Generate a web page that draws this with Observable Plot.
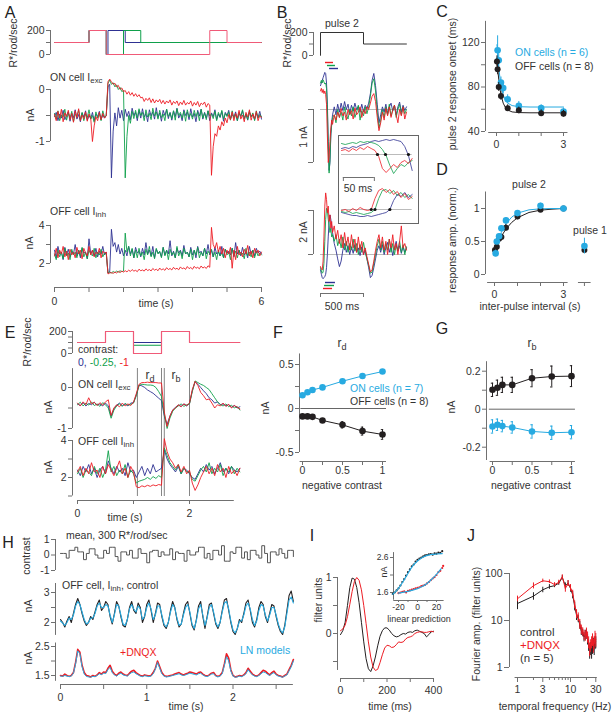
<!DOCTYPE html>
<html><head><meta charset="utf-8">
<script src="https://cdn.jsdelivr.net/npm/d3@7"></script>
<script src="https://cdn.jsdelivr.net/npm/@observablehq/plot@0.6"></script>
<style>
body{margin:0;background:#fff;}
#fig{position:relative;width:614px;height:714px;overflow:hidden;font-family:"Liberation Sans",Arial,Helvetica,sans-serif;color:#333;background:#fff;}
.t{position:absolute;font-size:10.5px;white-space:nowrap;line-height:1;}
.L{position:absolute;font-size:16px;line-height:1;transform:translate(-50%,-50%);color:#222;}
sub{font-size:75%;line-height:0;vertical-align:-0.3em;}
#fig svg{overflow:visible;}
</style></head><body><div id="fig"></div>
<script>
// ---------- colours ----------
const R="#ED1C24", G="#0FA04B", B="#2E3192", C="#27AAE1", K="#231F20", AX="#707070";
const FONT='"Liberation Sans", Arial, Helvetica, sans-serif';

// ---------- Panel A data ----------
const tA = d3.range(121).map(i => +(i*0.05).toFixed(2));
const stimLevels = [100,200,0,200,100,100];
const stimA_tBlue = [0,1,1.5,1.55,2.05,6];
const stimA_tGreen = [0,1,1.5,2.0,2.5,6];
const stimA_tRed = [0,1,1.5,4.5,5,6];
const aOnRed = [-0.48,-0.6,-0.42,-0.55,-0.38,-0.62,-0.45,-0.52,-0.4,-0.58,-0.46,-0.63,-0.41,-0.54,-0.37,-0.6,-0.49,-0.56,-0.43,-0.61,-0.47,-0.55,
-1.0,-0.7,-0.52,-0.6,-0.44,-0.58,-0.46,-0.55,-0.5,
0.15,0.2,0.15,0.1,0.12,0.05,0.08,0.0,0.03,-0.04,-0.02,-0.09,-0.04,-0.11,-0.06,-0.13,-0.08,-0.14,-0.1,-0.16,
-0.15,-0.23,-0.17,-0.21,-0.16,-0.25,-0.18,-0.26,-0.2,-0.24,-0.19,-0.27,-0.21,-0.28,-0.22,-0.26,-0.2,-0.3,-0.23,-0.27,
-0.22,-0.31,-0.24,-0.29,-0.21,-0.3,-0.25,-0.28,-0.22,-0.32,-0.25,-0.3,-0.23,-0.33,-0.26,-0.29,-0.24,-0.34,-0.27,-0.3,
-1.65,-1.1,-0.85,-0.9,-0.7,-0.78,-0.62,-0.7,-0.55,-0.64,
-0.48,-0.58,-0.43,-0.6,-0.46,-0.55,-0.4,-0.57,-0.49,-0.62,-0.44,-0.53,-0.39,-0.59,-0.47,-0.56,-0.42,-0.6,-0.5,-0.54];
const aOnBlue = [-0.52,-0.44,-0.6,-0.47,-0.55,-0.4,-0.58,-0.5,-0.43,-0.61,-0.46,-0.54,-0.39,-0.57,-0.48,-0.62,-0.45,-0.53,-0.41,-0.59,-0.5,-0.56,-0.44,-0.6,-0.47,-0.52,-0.42,-0.58,-0.49,-0.55,-0.5,
0.05,0.1,-1.7,-0.8,-0.45,-0.7,-0.35,-0.55,-0.4,-0.6,
-0.38,-0.52,-0.42,-0.58,-0.36,-0.5,-0.44,-0.6,-0.4,-0.55,-0.37,-0.53,-0.46,-0.62,-0.39,-0.51,-0.43,-0.57,-0.35,-0.54,
-0.45,-0.61,-0.4,-0.5,-0.38,-0.56,-0.44,-0.59,-0.41,-0.52,-0.36,-0.55,-0.47,-0.6,-0.39,-0.5,-0.43,-0.58,-0.37,-0.53,
-0.46,-0.62,-0.4,-0.51,-0.38,-0.57,-0.44,-0.55,-0.41,-0.6,-0.45,-0.52,-0.39,-0.58,-0.47,-0.54,-0.42,-0.61,-0.44,-0.5,
-0.4,-0.57,-0.48,-0.53,-0.43,-0.6,-0.46,-0.52,-0.41,-0.56,-0.47,-0.59,-0.44,-0.51,-0.49,-0.58,-0.45,-0.54,-0.42,-0.57];
const aOnGreen = [-0.46,-0.57,-0.41,-0.6,-0.49,-0.53,-0.38,-0.59,-0.45,-0.55,-0.42,-0.62,-0.48,-0.51,-0.4,-0.58,-0.44,-0.6,-0.47,-0.54,-0.39,-0.57,-0.5,-0.63,-0.43,-0.55,-0.46,-0.6,-0.41,-0.53,-0.5,
0.12,0.18,0.1,0.13,0.05,0.09,0.0,0.04,-0.04,-0.02,-1.7,-0.9,-0.5,-0.65,-0.42,-0.56,
-0.4,-0.55,-0.37,-0.5,-0.44,-0.6,-0.39,-0.53,-0.46,-0.58,-0.36,-0.51,-0.43,-0.57,-0.4,-0.54,-0.47,-0.6,-0.38,-0.52,
-0.45,-0.56,-0.41,-0.59,-0.37,-0.5,-0.44,-0.55,-0.42,-0.61,-0.39,-0.53,-0.46,-0.57,-0.4,-0.52,-0.43,-0.6,-0.38,-0.55,
-0.45,-0.58,-0.41,-0.51,-0.47,-0.56,-0.42,-0.6,-0.44,-0.53,-0.4,-0.57,-0.46,-0.52,-0.43,-0.59,-0.41,-0.55,-0.48,-0.6,
-0.44,-0.51,-0.39,-0.56,-0.47,-0.58,-0.42,-0.53,-0.45,-0.6,-0.41,-0.55,-0.48,-0.52];
const aOffRed = [2.4,2.8,2.3,2.7,2.5,2.9,2.35,2.65,2.2,2.75,2.45,2.6,2.3,2.85,2.5,2.7,2.25,2.8,2.55,2.4,2.9,2.45,2.7,2.35,2.6,2.5,2.8,2.3,2.65,2.55,2.6,
1.45,1.5,1.52,1.48,1.55,1.5,1.58,1.52,1.6,1.55,
1.62,1.56,1.65,1.58,1.68,1.6,1.64,1.57,1.7,1.62,1.66,1.6,1.72,1.63,1.68,1.61,1.74,1.65,1.7,1.62,
1.76,1.66,1.72,1.64,1.78,1.68,1.74,1.66,1.8,1.7,1.75,1.67,1.82,1.72,1.77,1.69,1.84,1.73,1.79,1.7,
1.85,1.75,1.8,1.72,1.87,1.76,1.82,1.74,1.88,1.8,
3.9,3.0,2.8,3.1,2.6,2.9,2.5,2.8,2.3,2.7,
2.5,2.85,1.75,2.7,2.2,2.9,2.45,2.6,2.35,2.75,2.5,2.95,2.4,2.65,2.3,2.8,2.55,2.7,2.4,2.6];
const aOffBlue = [2.7,2.3,2.9,2.5,2.6,2.2,2.85,2.45,2.75,2.35,2.65,2.5,3.0,2.4,2.7,2.3,2.8,2.55,2.6,2.25,3.3,2.5,2.7,2.4,2.8,2.35,2.65,2.5,2.9,2.45,2.6,
1.5,1.55,3.8,2.9,3.1,2.6,3.0,2.5,2.8,2.4,
2.7,2.4,2.9,2.5,2.75,2.3,2.85,2.55,2.65,2.35,2.8,2.45,3.1,2.5,2.7,2.4,2.9,2.3,2.75,2.55,
2.6,2.35,2.85,2.45,2.7,2.5,3.2,2.4,2.65,2.3,2.8,2.55,2.7,2.4,2.95,2.5,2.6,2.35,2.85,2.45,
2.7,2.3,2.9,2.55,2.65,2.4,2.8,2.5,3.0,2.45,2.7,2.35,2.85,2.5,2.6,2.4,2.9,2.3,2.75,2.55,
2.65,2.45,2.8,2.35,3.1,2.5,2.7,2.4,2.85,2.45,2.6,2.3,2.9,2.5,2.7,2.4,2.8,2.55,2.65,2.5];
const aOffGreen = [2.5,2.2,2.7,2.35,2.6,2.25,2.8,2.4,2.55,2.2,2.75,2.45,2.6,2.3,2.7,2.4,2.85,2.35,2.6,2.25,2.7,2.5,2.4,2.8,2.3,2.6,2.45,2.75,2.35,2.55,2.5,
1.5,1.55,1.5,1.58,1.52,1.6,1.55,1.62,1.57,1.6,3.6,2.6,2.9,2.4,2.8,2.3,
2.7,2.3,2.8,2.4,2.6,2.2,2.75,2.45,2.9,2.35,2.6,2.25,2.8,2.5,2.65,2.3,2.85,2.4,2.7,2.2,
2.75,2.45,2.6,2.3,2.9,2.4,2.65,2.25,2.8,2.5,2.6,2.35,2.75,2.2,2.7,2.45,2.85,2.3,2.6,2.4,
2.8,2.25,2.65,2.5,2.75,2.35,2.6,2.2,2.7,2.4,2.55,2.3,2.75,2.45,2.6,2.2,2.8,2.4,2.65,2.3,
2.7,2.45,2.55,2.25,2.8,2.4,2.6,2.35,2.7,2.3,2.65,2.4,2.55,2.45];

// ---------- Panel B data ----------
const tB = [...d3.range(0,150,10), ...d3.range(160,1001,20)];
const stimB_t = [0,0,500,1000];
const stimB_v = [0,200,100,100];
const bOnBlue = [0.45,0.5,0.55,0.6,0.65,0.7,0.68,0.5,0.1,-0.6,-1.15,-1.0,-0.5,-0.25,-0.1,
0.05,-0.1,0.1,-0.05,0.12,-0.02,0.15,0.0,0.1,-0.08,0.08,-0.03,0.12,0.0,0.06,-0.05,0.1,-0.04,0.08,0.02,
0.12,0.3,0.55,0.68,0.45,0.1,-0.25,-0.1,0.05,-0.05,0.1,-0.08,0.05,0.12,-0.03,0.08,-0.1,0.05,0.14,-0.05,0.08,-0.02,0.05];
const bOnGreen = [0.5,0.55,0.5,0.56,0.52,0.48,0.5,0.4,0.0,-0.7,-1.2,-0.95,-0.45,-0.3,-0.15,
-0.1,-0.25,0.0,-0.15,-0.05,-0.2,0.05,-0.1,-0.18,0.0,-0.12,0.05,-0.15,-0.05,0.08,-0.2,-0.02,-0.12,0.05,-0.08,
0.05,0.25,0.5,0.58,0.35,-0.05,-0.35,-0.2,0.0,-0.15,0.05,-0.1,0.1,-0.12,0.0,0.08,-0.15,0.0,0.1,-0.1,0.05,-0.08,0.0];
const bOnRed = [0.35,0.4,0.32,0.38,0.3,0.35,0.28,0.1,-0.5,-1.0,-0.9,-0.6,-0.35,-0.2,-0.28,
-0.1,-0.2,-0.05,-0.15,0.02,-0.12,-0.05,-0.2,0.0,-0.1,-0.02,-0.18,0.03,-0.1,-0.05,0.05,-0.15,0.0,-0.08,0.05,
0.0,0.12,0.25,0.3,0.15,-0.15,-0.4,-0.25,-0.05,-0.2,0.02,-0.12,0.05,-0.15,-0.02,0.08,-0.1,-0.25,0.0,-0.12,0.05,-0.18,-0.05];
const bOffBlue = [-0.7,-0.9,-1.05,-1.1,-1.05,-1.0,-0.9,-0.6,0.0,0.8,1.5,1.8,1.6,1.3,1.0,
0.5,0.2,-0.2,-0.55,-0.3,0.2,0.5,0.1,0.4,0.0,0.35,0.05,0.45,0.1,0.3,-0.05,0.35,0.0,0.2,-0.2,
-0.6,-1.05,-0.95,-0.6,-0.2,0.2,0.4,0.1,0.45,0.0,0.3,0.55,0.1,0.4,-0.05,0.3,0.6,0.15,0.4,0.05,0.35,0.1,0.3];
const bOffGreen = [-0.6,-0.75,-0.85,-0.8,-0.4,0.6,1.6,2.1,2.0,1.6,1.3,1.0,1.2,0.8,0.9,
0.6,0.9,0.4,0.7,0.3,0.8,0.2,0.6,0.1,0.5,0.2,0.7,0.15,0.5,0.0,0.45,0.1,0.55,0.1,-0.2,
-0.5,-0.85,-0.8,-0.4,0.0,0.4,0.7,0.2,0.6,0.1,0.5,0.2,0.7,0.1,0.5,0.0,0.4,0.2,0.6,0.1,0.45,0.0,0.35];
const bOffRed = [-0.55,-0.65,-0.7,-0.3,0.8,2.2,2.8,2.5,1.9,2.2,1.5,1.8,1.2,1.5,1.0,
1.3,0.7,1.1,0.5,0.9,0.3,1.0,0.4,0.8,0.2,0.9,0.3,0.7,0.1,0.8,0.2,0.6,0.0,0.3,-0.1,
-0.45,-0.8,-0.7,-0.3,0.2,0.6,0.9,0.3,0.8,0.2,0.6,0.0,0.7,0.3,0.9,0.2,0.5,0.0,0.6,1.3,0.3,0.5,0.2];
const onsetTopB = [["r",58,151],["g",81,174],["b",105,209]];
const onsetBotB = [["b",58,174],["g",47,163],["r",35,140]];
// inset (onset detail), ms
const insT = d3.range(20).map(i => i*6);
const insUpGreen = [0.55,0.5,0.55,0.6,0.55,0.65,0.6,0.65,0.6,0.55,0.45,0.25,-0.05,-0.55,-0.95,-0.7,-0.5,-0.6,-0.4,-0.3];
const insUpRed = [0.2,0.25,0.15,0.3,0.2,0.35,0.25,0.4,0.3,0.2,-0.1,-0.7,-0.9,-0.7,-0.5,-0.65,-0.4,-0.3,-0.45,-0.2];
const insUpBlue = [0.3,0.35,0.3,0.4,0.35,0.45,0.5,0.55,0.65,0.7,0.65,0.7,0.75,0.7,0.75,0.7,0.65,0.4,-0.05,-0.8];
const insLoRed = [-0.05,0,-0.1,0.05,-0.05,0.1,0,-0.05,0,0.55,0.95,1.05,0.85,1.0,0.75,0.9,0.6,0.8,0.5,0.65];
const insLoGreen = [-0.1,-0.15,-0.1,-0.2,-0.15,-0.2,-0.25,-0.2,-0.15,0,0.55,0.95,1.0,0.8,0.95,0.7,0.85,0.6,0.75,0.55];
const insLoBlue = [-0.15,-0.2,-0.25,-0.3,-0.3,-0.35,-0.35,-0.3,-0.35,-0.3,-0.25,-0.2,-0.15,0,0.45,0.75,0.65,0.85,0.6,0.75];
const insUpOnsets = [58,71,108];
const insLoOnsets = [48,54,78];

// ---------- Panel C data ----------
const cOnX = [0.05,0.1,0.2,0.3,0.5,1,2,3], cOnY = [113,104,84,79,69,63,61,58], cOnE = [13,6,5,5,4,4,3,3];
const cOffX = [0.02,0.05,0.1,0.2,0.5,1,2,3], cOffY = [103,96,80,72,61,59,56.5,56], cOffE = [5,5,4,4,3,3,3,3];
const cFitT = [0.02,0.05,0.1,0.15,0.2,0.3,0.4,0.5,0.7,1,1.5,2,3];
const cFitOn = [118,110,98,89,82,73,68,65.5,63.3,62.3,62,62,62];
const cFitOff = [104,97,87,79,73,65.5,61.5,59.3,57.6,57,56.8,56.8,56.8];

// ---------- Panel D data ----------
const dOnX = [0.05,0.1,0.2,0.3,0.5,1,2,3], dOnY = [0.32,0.5,0.58,0.7,0.82,0.93,1.04,1.0], dOnE = [0.05,0.04,0.04,0.04,0.04,0.03,0.04,0.02];
const dOffX = [0.02,0.1,0.2,0.3,0.5,1,2,3], dOffY = [0.37,0.42,0.54,0.57,0.71,0.88,0.98,1.0], dOffE = [0.04,0.04,0.04,0.04,0.05,0.05,0.04,0.02];
const dFitT = [0,0.1,0.2,0.3,0.5,0.75,1,1.5,2,2.5,3];
const dFitOn = [0.3,0.44,0.55,0.64,0.77,0.87,0.93,0.98,0.995,1,1];
const dFitOff = [0.35,0.43,0.51,0.58,0.69,0.79,0.86,0.94,0.975,0.99,1];
const pulse1X = 3.91, pulse1On = 0.43, pulse1OnE = 0.12, pulse1Off = 0.37, pulse1OffE = 0.04;

// ---------- Panel E data ----------
const tE = d3.range(59).map(i => +(i*0.05).toFixed(2));
const stimE_t = [0,0.5,1.0,1.5,2.0,2.9];
const stimE_red = [100,200,0,200,100,100];
const stimE_green = [100,200,75,200,100,100];
const stimE_blue = [100,200,100,200,100,100];
const eLines = [1.07,1.5,1.55,2.0];
const eOnRed = [-0.38,-0.45,-0.35,-0.42,-0.25,-0.4,-0.36,-0.44,-0.37,-0.43,-0.35,-0.3,-0.68,-0.5,-0.42,-0.47,-0.38,-0.45,-0.4,-0.44,
-0.36,-0.15,0.08,0.12,0.12,0.13,0.12,0.12,0.12,0.11,0.11,-0.6,-0.95,-0.7,-0.55,-0.5,-0.42,-0.47,-0.4,-0.44,
-0.38,-0.05,0.15,0.05,-0.12,-0.2,-0.3,-0.28,-0.38,-0.5,-0.42,-0.45,-0.38,-0.46,-0.41,-0.5,-0.44,-0.48,-0.52];
const eOnGreen = [-0.42,-0.36,-0.45,-0.38,-0.43,-0.35,-0.44,-0.4,-0.46,-0.37,-0.42,-0.5,-0.75,-0.55,-0.45,-0.4,-0.46,-0.39,-0.43,-0.41,
-0.38,-0.2,0.05,0.08,0.07,0.06,0.06,0.05,0.0,-0.1,-0.22,-0.65,-1.0,-0.75,-0.58,-0.5,-0.45,-0.4,-0.46,-0.42,
-0.4,-0.1,0.16,0.12,0.08,0.05,0.0,-0.05,-0.15,-0.25,-0.35,-0.42,-0.45,-0.4,-0.47,-0.43,-0.5,-0.46,-0.55];
const eOnBlue = [-0.4,-0.44,-0.37,-0.45,-0.39,-0.42,-0.36,-0.43,-0.4,-0.45,-0.38,-0.45,-0.7,-0.52,-0.43,-0.38,-0.44,-0.4,-0.45,-0.38,
-0.37,-0.18,0.06,0.04,0.0,-0.06,-0.1,-0.14,-0.2,-0.26,-0.32,-0.7,-0.9,-0.7,-0.55,-0.48,-0.43,-0.46,-0.4,-0.45,
-0.39,-0.08,0.14,0.08,0.0,-0.08,-0.15,-0.25,-0.3,-0.38,-0.35,-0.42,-0.4,-0.45,-0.42,-0.48,-0.44,-0.5,-0.47];
const eOffRed = [2.3,2.6,2.1,2.5,2.2,2.8,2.3,2.4,2.0,2.6,2.2,2.7,2.4,2.1,2.5,2.9,2.2,2.5,2.0,2.6,
2.3,1.5,1.45,1.55,1.5,1.58,1.52,1.6,1.55,1.62,1.58,4.1,3.4,3.0,2.8,2.5,2.7,2.3,2.6,2.2,
2.4,1.7,1.3,1.6,2.0,2.3,2.6,2.2,2.5,2.1,2.7,2.3,2.5,2.0,2.6,2.2,2.4,2.1,2.5];
const eOffGreen = [2.2,2.5,2.0,2.4,2.3,2.1,2.6,2.2,2.5,2.0,2.4,3.45,2.3,2.6,2.1,2.4,2.2,2.7,2.0,2.4,
2.2,1.7,1.8,1.85,1.9,2.0,1.9,2.05,1.95,2.1,2.0,3.6,3.2,2.8,2.6,2.4,2.7,2.2,2.5,2.3,
2.3,1.9,1.8,2.1,2.4,2.6,2.3,2.8,2.2,2.5,2.3,2.7,2.1,2.5,2.3,2.6,2.2,2.5,2.3];
const eOffBlue = [2.4,2.1,2.6,2.3,2.7,2.2,2.5,2.0,2.4,2.6,2.2,2.9,2.5,2.2,2.6,2.3,2.5,2.1,2.8,2.3,
2.4,2.0,2.3,2.6,2.1,2.5,2.2,2.7,2.3,2.4,2.5,3.5,3.0,2.7,2.5,2.3,2.6,2.2,2.5,2.4,
2.2,2.0,1.9,2.2,2.5,2.3,2.7,2.4,2.6,2.2,2.5,2.8,2.3,2.5,2.2,2.6,2.4,2.3,2.5];

// ---------- Panels F, G data ----------
const negContrast = [0,0.0625,0.125,0.25,0.5,0.75,1];
const fOn = [0.15,0.185,0.21,0.24,0.31,0.37,0.42], fOnE = [0.02,0.02,0.02,0.02,0.02,0.02,0.02];
const fOff = [-0.09,-0.09,-0.095,-0.136,-0.186,-0.257,-0.295], fOffE = [0.01,0.01,0.012,0.02,0.035,0.045,0.055];
const gOff = [0.102,0.113,0.128,0.128,0.163,0.172,0.174], gOffE = [0.035,0.04,0.04,0.04,0.045,0.055,0.055];
const gOn = [-0.091,-0.082,-0.089,-0.096,-0.117,-0.124,-0.121], gOnE = [0.035,0.03,0.03,0.03,0.035,0.035,0.035];

// ---------- Panel H data ----------
const hcT = d3.range(82).map(i => i/30);
const hContrast = [0.1,0.1,-0.2,0.3,0.3,0.5,0.2,0.2,-0.3,0.1,0.4,0.4,0.0,-0.2,-0.2,0.3,0.1,0.5,0.5,-0.1,
-0.4,0.2,0.2,0.0,0.3,-0.2,-0.2,0.4,0.1,0.1,-0.5,0.2,0.3,0.3,-0.1,0.2,0.0,0.0,0.4,-0.3,
0.2,0.1,0.1,-0.4,0.3,0.0,0.0,0.2,0.5,0.5,-0.2,0.1,-0.3,0.3,0.3,0.0,0.6,-0.4,-0.4,0.2,
0.1,0.5,0.5,-0.2,0.2,-0.3,0.3,0.3,0.0,-0.2,0.6,0.1,-0.5,0.2,0.2,0.0,0.4,0.1,-0.2,0.3,0.3,-0.1];
const tH = d3.range(109).map(i => i*0.025);
const hCtlData = [2.1,2.0,1.85,2.05,2.2,2.0,2.3,2.6,2.8,2.6,2.3,2.05,1.9,2.0,2.2,2.1,2.35,2.6,2.75,2.4,
2.5,2.7,2.6,2.2,1.95,2.3,2.7,2.55,2.2,1.9,1.85,2.1,2.5,2.7,2.4,2.3,2.65,2.5,2.0,2.2,
2.6,2.75,2.4,2.0,2.3,2.65,2.6,2.2,1.9,1.8,2.0,2.4,2.7,2.5,2.1,1.85,1.95,2.3,2.6,2.7,
2.3,1.9,1.75,2.1,2.55,2.7,2.2,1.8,2.2,2.6,2.65,2.3,1.95,1.8,2.0,2.4,2.75,2.8,2.4,2.0,
1.7,1.6,1.8,2.1,2.0,2.3,2.65,2.75,2.4,2.0,1.85,2.1,2.5,2.7,2.6,2.2,2.0,2.3,2.6,2.55,
2.2,1.9,1.7,1.6,1.9,2.4,2.9,3.05,2.7];
const hCtlModel = [2.05,1.98,1.9,2.0,2.15,2.1,2.25,2.55,2.7,2.6,2.35,2.1,1.95,2.0,2.15,2.15,2.3,2.55,2.65,2.5,
2.5,2.6,2.55,2.25,2.0,2.25,2.6,2.55,2.25,1.95,1.9,2.1,2.45,2.6,2.45,2.35,2.55,2.45,2.1,2.2,
2.5,2.65,2.45,2.1,2.25,2.55,2.55,2.25,1.95,1.85,2.0,2.35,2.6,2.5,2.15,1.9,1.95,2.25,2.5,2.6,
2.35,1.95,1.8,2.05,2.45,2.6,2.25,1.9,2.15,2.5,2.6,2.35,2.0,1.85,2.0,2.35,2.65,2.7,2.45,2.05,
1.75,1.65,1.8,2.05,2.05,2.25,2.55,2.65,2.45,2.1,1.9,2.05,2.4,2.6,2.55,2.25,2.05,2.25,2.5,2.5,
2.25,1.95,1.75,1.65,1.85,2.3,2.75,2.85,2.65];
const hDnqData = [1.5,1.48,1.55,1.5,1.47,1.5,1.6,1.95,2.4,2.3,1.85,1.6,1.5,1.48,1.45,1.5,1.47,1.52,1.6,1.55,
1.62,1.6,1.75,1.85,1.65,1.55,1.5,1.58,1.62,1.55,1.52,1.5,1.58,1.65,1.68,1.6,1.55,1.5,1.48,1.52,
1.5,1.48,1.5,1.6,1.75,2.0,1.8,1.6,1.5,1.47,1.48,1.5,1.52,1.55,1.58,1.6,1.55,1.52,1.55,1.58,
1.62,1.6,1.58,1.55,1.6,1.62,1.55,1.5,1.48,1.52,1.58,1.6,1.5,1.47,1.5,1.6,1.9,2.25,2.1,1.7,
1.5,1.45,1.47,1.5,1.48,1.52,1.6,1.75,1.65,1.55,1.5,1.48,1.52,1.6,1.68,1.65,1.58,1.52,1.6,1.65,
1.55,1.5,1.48,1.45,1.5,1.55,1.7,1.85,2.05];
const hDnqModel = [1.48,1.47,1.5,1.48,1.46,1.48,1.58,1.9,2.35,2.25,1.8,1.55,1.47,1.45,1.44,1.47,1.46,1.5,1.56,1.53,
1.58,1.57,1.7,1.78,1.6,1.52,1.48,1.54,1.58,1.52,1.5,1.48,1.55,1.6,1.62,1.56,1.52,1.48,1.46,1.49,
1.48,1.46,1.48,1.56,1.72,1.95,1.75,1.56,1.48,1.45,1.46,1.48,1.5,1.52,1.54,1.56,1.52,1.5,1.52,1.55,
1.58,1.56,1.54,1.52,1.56,1.58,1.52,1.48,1.46,1.5,1.55,1.56,1.48,1.45,1.48,1.56,1.85,2.15,2.0,1.65,
1.48,1.44,1.45,1.48,1.46,1.5,1.56,1.7,1.6,1.52,1.48,1.46,1.5,1.56,1.62,1.6,1.54,1.5,1.56,1.6,
1.52,1.48,1.46,1.44,1.48,1.52,1.66,1.8,2.0];

// ---------- Panel I data ----------
const iT = d3.range(41).map(i => i*10);
const iControl = [-0.02,0.05,0.2,0.5,0.82,0.99,0.97,0.82,0.55,0.2,-0.15,-0.45,-0.63,-0.68,-0.58,-0.42,-0.22,-0.05,0.05,0.1,
0.1,0.06,0.0,-0.04,-0.06,-0.05,-0.02,0.0,-0.01,0.02,0.03,0.02,0.05,0.06,0.04,0.02,0.0,-0.06,-0.02,0.03,0.04];
const iDnqx = [0.05,0.08,0.15,0.3,0.52,0.75,0.93,1.0,0.95,0.78,0.5,0.18,-0.15,-0.42,-0.6,-0.66,-0.64,-0.52,-0.38,-0.26,
-0.21,-0.22,-0.25,-0.24,-0.2,-0.15,-0.16,-0.15,-0.1,-0.07,-0.06,-0.04,0.0,0.02,0.03,0.03,0.02,0.02,0.03,0.04,0.03];
const insIctlX = [-26,-24,-22,-20,-18,-16,-14,-12,-10,-8,-6,-4,-2,0,2,4,6,8,10,12,14,16,18,20,22,24,26];
const insIctlY = [1.56,1.6,1.66,1.72,1.8,1.9,1.98,2.08,2.18,2.26,2.35,2.4,2.48,2.53,2.57,2.6,2.63,2.66,2.67,2.69,2.7,2.68,2.72,2.71,2.74,2.73,2.78];
const insIctlFitX = [-26,-20,-15,-10,-5,0,5,10,15,20,26];
const insIctlFitY = [1.55,1.72,1.92,2.15,2.36,2.5,2.6,2.66,2.69,2.7,2.71];
const insIdnqX = [-20,-18,-16,-14,-12,-10,-8,-6,-4,-2,0,2,4,6,8,10,12,14,16,18,20,22,24,26,27];
const insIdnqY = [1.58,1.6,1.62,1.63,1.6,1.65,1.66,1.68,1.7,1.72,1.73,1.75,1.78,1.8,1.82,1.86,1.9,1.95,2.0,2.04,2.1,2.18,2.22,2.3,2.36];
const insIdnqFitX = [-20,-10,0,5,10,15,20,25];
const insIdnqFitY = [1.58,1.63,1.71,1.77,1.86,1.98,2.12,2.28];

// ---------- Panel J data ----------
const jF = d3.range(1,31);
const jCtl = [23,33,45,52,55,62,82,55,62,48,35,20,13,11,8,6,5.5,4.5,5,5.2,4,3,2.2,2.6,2.2,2.8,3.2,2.6,3.4,3.5];
const jCtlE = [6,6,6,6,5,6,8,8,8,8,6,4,3,2,1.5,1.2,1,1,1.2,1.2,1,0.8,0.7,0.8,0.7,0.9,1,0.8,1,1];
const jDnq = [29,55,70,67,58,65,85,48,62,50,38,22,14,12,8.5,6.5,5.8,5,4.8,5.5,4.5,3.5,2.5,3,3.5,4,3,3.5,4.5,4];
const jDnqE = [4,8,6,6,6,7,9,8,9,8,6,4,3,2.5,2,1.5,1.2,1.2,1.2,1.4,1.2,1,0.8,0.9,1,1.2,1,1.1,1.4,1.3];

// ---------- helpers ----------
const fig = document.getElementById("fig");
function ext(m, p, log) {
  const [p0, v0, p1, v1] = m;
  if (log) { const a = Math.log10(v0), b = Math.log10(v1); return 10 ** (a + (p - p0) * (b - a) / (p1 - p0)); }
  return v0 + (p - p0) * (v1 - v0) / (p1 - p0);
}
function chart(o) {
  const ml = 40, mr = 20, mt = 20, mb = 30;
  const xd = [ext(o.xm, o.fx[0], o.xlog), ext(o.xm, o.fx[1], o.xlog)];
  const yd = o.ym ? [ext(o.ym, o.fy[1], o.ylog), ext(o.ym, o.fy[0], o.ylog)] : null;
  const y = o.y || {domain: yd, type: o.ylog ? "log" : "linear"};
  const svg = Plot.plot({
    width: o.fx[1] - o.fx[0] + ml + mr, height: o.fy[1] - o.fy[0] + mt + mb,
    marginLeft: ml, marginRight: mr, marginTop: mt, marginBottom: mb,
    x: {domain: xd, type: o.xlog ? "log" : "linear", axis: null},
    y: {...y, axis: null},
    style: {background: "transparent", overflow: "visible", fontFamily: FONT, fontSize: (o.fs || 10.5) + "px", color: "#333"},
    marks: o.marks(xd, yd)
  });
  svg.style.position = "absolute";
  svg.style.left = (o.fx[0] - ml) + "px";
  svg.style.top = (o.fy[0] - mt) + "px";
  svg.style.maxWidth = "none";
  fig.append(svg);
}
const fmt = labels => d => labels.some(l => Math.abs(l - d) < 1e-9) ? String(d) : "";
function yAx(xd, ticks, labels, from, to, o = {}) {
  return [Plot.ruleX([xd[0]], {y1: from, y2: to, stroke: AX, strokeWidth: 1}),
    Plot.axisY({ticks, tickSize: o.size ?? 4, tickPadding: o.pad ?? 2, tickFormat: fmt(labels), stroke: AX, fill: "#333", label: null, anchor: "left"})];
}
function xAx(yd, ticks, labels, from, to, o = {}) {
  return [Plot.ruleY([yd[0]], {x1: from, x2: to, stroke: AX, strokeWidth: 1}),
    Plot.axisX({ticks, tickSize: o.size ?? 4, tickPadding: o.pad ?? 3, tickFormat: fmt(labels), stroke: AX, fill: "#333", label: null, anchor: "bottom"})];
}
const idx = (a, b) => d3.range(Math.min(a.length, b.length));
const L = (t, v, stroke, sw = 1, extra = {}) => Plot.line(idx(t, v), {x: i => t[i], y: i => v[i], stroke, strokeWidth: sw, ...extra});
const D = (t, v, fill, r = 3) => Plot.dot(idx(t, v), {x: i => t[i], y: i => v[i], fill, r, stroke: "none"});
const EB = (t, v, e, stroke, cap = 0) => {
  const m = [Plot.ruleX(idx(t, v), {x: i => t[i], y1: i => v[i] - e[i], y2: i => v[i] + e[i], stroke, strokeWidth: 1})];
  if (cap) {
    m.push(Plot.ruleY(idx(t, v), {y: i => v[i] + e[i], x1: i => t[i] - cap, x2: i => t[i] + cap, stroke}));
    m.push(Plot.ruleY(idx(t, v), {y: i => v[i] - e[i], x1: i => t[i] - cap, x2: i => t[i] + cap, stroke}));
  }
  return m;
};
function T(html, x, y, o = {}) {
  const d = document.createElement("div");
  d.className = "t"; d.innerHTML = html;
  d.style.left = x + "px"; d.style.top = y + "px";
  const a = o.a || "m";
  let tr = a === "s" ? "translate(0,-50%)" : a === "e" ? "translate(-100%,-50%)" : "translate(-50%,-50%)";
  if (o.rot) tr = "translate(-50%,-50%) rotate(-90deg)";
  d.style.transform = tr;
  if (o.color) d.style.color = o.color;
  if (o.size) d.style.fontSize = o.size + "px";
  fig.append(d);
}
function letter(s, x, y) { const d = document.createElement("div"); d.className = "L"; d.textContent = s; d.style.left = x + "px"; d.style.top = y + "px"; fig.append(d); }

// ================= Panel A =================
const xmA = [54, 0, 261, 6];
chart({fx: [50, 265], fy: [24, 58], xm: xmA, ym: [30, 200, 54, 0], marks: (xd) => [
  ...yAx(xd, [0, 100, 200], [0, 200], 0, 200),
  L(stimA_tBlue, stimLevels, B, 1, {curve: "step-after"}),
  L(stimA_tGreen, stimLevels, G, 1, {curve: "step-after"}),
  L(stimA_tRed, stimLevels, "#F05A78", 1, {curve: "step-after"})
]});
chart({fx: [50, 265], fy: [80, 182], xm: xmA, ym: [89, 0, 141, -1], marks: (xd) => [
  ...yAx(xd, [0, -0.5, -1], [0, -1], -1, 0),
  L(tA, aOnBlue, B, 0.9), L(tA, aOnGreen, G, 0.9), L(tA, aOnRed, R, 0.9)
]});
chart({fx: [50, 265], fy: [205, 287], xm: xmA, ym: [225, 4, 263, 2], marks: (xd, yd) => [
  ...yAx(xd, [4, 3, 2], [4, 2], 2, 4),
  ...xAx(yd, [0, 1, 2, 3, 4, 5, 6], [0, 6], 0, 6, {size: 5, pad: 5}),
  L(tA, aOffBlue, B, 0.9), L(tA, aOffGreen, G, 0.9), L(tA, aOffRed, R, 0.9)
]});
letter("A", 10, 13);
T("R*/rod/sec", 13, 43, {rot: true});
T("ON cell I<sub>exc</sub>", 50, 77, {a: "s"});
T("nA", 30, 115, {rot: true});
T("OFF cell I<sub>inh</sub>", 50, 211, {a: "s"});
T("nA", 29, 243, {rot: true});
T("time (s)", 156, 303);

// ================= Panel B =================
const xmB = [320, 0, 363, 500];
chart({fx: [313, 410], fy: [24, 58], xm: xmB, ym: [32, 200, 55, 0], marks: (xd) => [
  ...yAx(xd, [0, 100, 200], [0, 200], 0, 200),
  L(stimB_t, stimB_v, "#333", 1, {curve: "step-after"})
]});
chart({fx: [313, 410], fy: [59, 70], xm: xmB, y: {type: "point", domain: ["r", "g", "b"]}, marks: () => [
  Plot.ruleY(onsetTopB.filter(d => d[0] === "r"), {y: d => d[0], x1: d => d[1], x2: d => d[2], stroke: R, strokeWidth: 1.4}),
  Plot.ruleY(onsetTopB.filter(d => d[0] === "g"), {y: d => d[0], x1: d => d[1], x2: d => d[2], stroke: G, strokeWidth: 1.4}),
  Plot.ruleY(onsetTopB.filter(d => d[0] === "b"), {y: d => d[0], x1: d => d[1], x2: d => d[2], stroke: B, strokeWidth: 1.4})
]});
chart({fx: [313, 410], fy: [70, 182], xm: xmB, ym: [109, 0, 162, -1], marks: (xd) => [
  ...yAx(xd, [0, -1], [], -1, 0, {size: 5}),
  Plot.ruleY([0], {x1: 0, x2: 1000, stroke: "#aaa", strokeWidth: 0.8}),
  L(tB, bOnBlue, B, 0.9), L(tB, bOnGreen, G, 0.9), L(tB, bOnRed, R, 0.9)
]});
chart({fx: [313, 410], fy: [185, 281], xm: xmB, ym: [254, 0, 210, 2], marks: (xd) => [
  ...yAx(xd, [0, 2], [], 0, 2, {size: 5}),
  Plot.ruleY([0], {x1: 0, x2: 1000, stroke: "#aaa", strokeWidth: 0.8}),
  L(tB, bOffBlue, B, 0.9), L(tB, bOffGreen, G, 0.9), L(tB, bOffRed, R, 0.9)
]});
chart({fx: [313, 410], fy: [279, 290], xm: xmB, y: {type: "point", domain: ["b", "g", "r"]}, marks: () => [
  Plot.ruleY(onsetBotB.filter(d => d[0] === "b"), {y: d => d[0], x1: d => d[1], x2: d => d[2], stroke: B, strokeWidth: 1.4}),
  Plot.ruleY(onsetBotB.filter(d => d[0] === "g"), {y: d => d[0], x1: d => d[1], x2: d => d[2], stroke: G, strokeWidth: 1.4}),
  Plot.ruleY(onsetBotB.filter(d => d[0] === "r"), {y: d => d[0], x1: d => d[1], x2: d => d[2], stroke: R, strokeWidth: 1.4})
]});
chart({fx: [313, 410], fy: [291, 299], xm: xmB, ym: [293, 0, 297, -1], marks: () => [
  Plot.ruleY([0], {x1: 0, x2: 500, stroke: AX}),
  Plot.ruleX([0, 500], {y1: 0, y2: -1, stroke: AX})
]});
// inset box
{ const box = document.createElement("div");
  Object.assign(box.style, {position: "absolute", left: "338px", top: "135px", width: "79px", height: "87px", border: "1px solid #666", background: "#fff"});
  fig.append(box); }
const xmIns = [341, 0, 372, 50];
chart({fx: [339, 417], fy: [137, 182], xm: xmIns, ym: [154, 0, 174, -1], marks: () => [
  Plot.ruleY([0], {x1: 0, x2: 114, stroke: "#aaa", strokeWidth: 0.8}),
  L(insT, insUpBlue, B, 0.8), L(insT, insUpGreen, G, 0.8), L(insT, insUpRed, R, 0.8),
  Plot.dot(insUpOnsets, {x: d => d, y: 0, r: 1.6, fill: "#111"}),
  Plot.ruleY([-1.15], {x1: 3, x2: 53, stroke: AX}),
  Plot.ruleX([3, 53], {y1: -1.15, y2: -1.35, stroke: AX})
]});
chart({fx: [339, 417], fy: [183, 221], xm: xmIns, ym: [209, 0, 229, -1], marks: () => [
  Plot.ruleY([0], {x1: 0, x2: 114, stroke: "#aaa", strokeWidth: 0.8}),
  L(insT, insLoBlue, B, 0.8), L(insT, insLoGreen, G, 0.8), L(insT, insLoRed, R, 0.8),
  Plot.dot(insLoOnsets, {x: d => d, y: 0, r: 1.6, fill: "#111"})
]});
letter("B", 282, 13);
T("R*/rod/sec", 287, 43, {rot: true});
T("pulse 2", 325, 23, {a: "s"});
T("1 nA", 303, 137, {rot: true});
T("2 nA", 303, 232, {rot: true});
T("500 ms", 342, 306);
T("50 ms", 358, 188);

// ================= Panel C =================
chart({fx: [485, 578], fy: [18, 132], xm: [496, 0, 563, 3], ym: [42, 120, 131, 40], marks: (xd, yd) => [
  ...yAx(xd, [40, 60, 80, 100, 120], [40, 80, 120], 40, 139),
  ...xAx(yd, [0, 1, 2, 3], [0, 3], -0.35, 3.2, {size: 4, pad: 4}),
  L(cFitT, cFitOn, C, 1), L(cFitT, cFitOff, K, 1),
  ...EB(cOnX, cOnY, cOnE, C), D(cOnX, cOnY, C, 3.3),
  ...EB(cOffX, cOffY, cOffE, K), D(cOffX, cOffY, K, 3)
]});
letter("C", 442, 12);
T("pulse 2 response onset (ms)", 452, 84, {rot: true});
T("ON cells (n = 6)", 515, 52, {a: "s", color: C});
T("OFF cells (n = 8)", 515, 66, {a: "s"});

// ================= Panel D =================
chart({fx: [485, 594], fy: [188, 282], xm: [494, 0, 563, 3], ym: [208, 1, 274, 0], marks: (xd, yd) => [
  ...yAx(xd, [0, 0.5, 1], [0, 0.5, 1], 0, 1.25),
  ...xAx(yd, [0, 1, 2, 3, pulse1X], [0, 3], -0.3, 3.2, {size: 4, pad: 4}),
  Plot.ruleY([yd[0]], {x1: 3.65, x2: 4.2, stroke: AX}),
  L(dFitT, dFitOff, K, 1), L(dFitT, dFitOn, C, 1),
  ...EB(dOffX, dOffY, dOffE, K), D(dOffX, dOffY, K, 3),
  ...EB(dOnX, dOnY, dOnE, C), D(dOnX, dOnY, C, 3.3),
  ...EB([pulse1X], [pulse1Off], [pulse1OffE], K), D([pulse1X], [pulse1Off], K, 3),
  ...EB([pulse1X], [pulse1On], [pulse1OnE], C), D([pulse1X], [pulse1On], C, 3.3)
]});
letter("D", 442, 170);
T("pulse 2", 529, 184);
T("pulse 1", 590, 230);
T("inter-pulse interval (s)", 530, 306);
T("response amp. (norm.)", 452, 240, {rot: true});

// ================= Panel E =================
const xmE = [77, 0, 189, 2];
chart({fx: [72, 245], fy: [325, 357], xm: xmE, ym: [331, 200, 353, 0], marks: (xd) => [
  ...yAx(xd, [0, 50, 100, 150, 200], [0, 200], 0, 200),
  L(stimE_t, stimE_blue, B, 1, {curve: "step-after"}),
  L(stimE_t, stimE_green, G, 1, {curve: "step-after"}),
  L(stimE_t, stimE_red, "#F05A78", 1.2, {curve: "step-after"})
]});
chart({fx: [72, 245], fy: [368, 496], xm: xmE, ym: [368, 1, 496, 0], marks: () => [
  Plot.ruleX(eLines, {stroke: "#666", strokeWidth: 0.8})
]});
chart({fx: [72, 245], fy: [366, 432], xm: xmE, ym: [387, 0, 428, -1], marks: (xd) => [
  ...yAx(xd, [0, -0.5, -1], [0, -1], -1, 0.46),
  L(tE, eOnBlue, B, 0.9), L(tE, eOnGreen, G, 0.9), L(tE, eOnRed, R, 0.9)
]});
chart({fx: [72, 245], fy: [436, 500], xm: xmE, ym: [440, 4, 477, 2], marks: (xd, yd) => [
  ...yAx(xd, [4, 3, 2, 1], [4, 2], 1, 4),
  ...xAx(yd, [0, 1, 2], [0, 2], 0, 2.8, {size: 4, pad: 5}),
  L(tE, eOffBlue, B, 0.9), L(tE, eOffGreen, G, 0.9), L(tE, eOffRed, R, 0.9)
]});
letter("E", 10, 333);
T("R*/rod/sec", 27, 342, {rot: true});
T("contrast:", 78, 349, {a: "s"});
T(`<span style="color:${B}">0,</span> <span style="color:${G}">-0.25,</span> <span style="color:${R}">-1</span>`, 78, 362, {a: "s"});
T("ON cell I<sub>exc</sub>", 78, 384, {a: "s"});
T("nA", 48, 407, {rot: true});
T("r<sub>d</sub>", 150, 375, {size: 12});
T("r<sub>b</sub>", 176, 375, {size: 12});
T("OFF cell I<sub>inh</sub>", 78, 441, {a: "s"});
T("nA", 48, 467, {rot: true});
T("time (s)", 125, 517);

// ================= Panel F =================
chart({fx: [299, 392], fy: [353, 461], xm: [302, 0, 382, 1], ym: [408, 0, 364, 0.5], marks: (xd, yd) => [
  ...yAx(xd, [0.5, 0.25, 0, -0.25, -0.5], [0.5, 0, -0.5], -0.5, 0.62),
  ...xAx(yd, [0, 0.25, 0.5, 0.75, 1], [0, 0.5, 1], -0.03, 1.05, {size: 4, pad: 1}),
  Plot.ruleY([0], {x1: -0.02, x2: 1.05, stroke: "#555", strokeWidth: 0.9}),
  L(negContrast, fOn, C, 1), ...EB(negContrast, fOn, fOnE, C, 0.015), D(negContrast, fOn, C, 3.3),
  L(negContrast, fOff, K, 1), ...EB(negContrast, fOff, fOffE, K, 0.015), D(negContrast, fOff, K, 3.3)
]});
letter("F", 278, 333);
T("r<sub>d</sub>", 342, 343, {size: 12});
T("nA", 265, 408, {rot: true});
T("ON cells (n = 7)", 350, 388, {a: "s", color: C});
T("OFF cells (n = 8)", 350, 401, {a: "s"});
T("negative contrast", 342, 485);

// ================= Panel G =================
chart({fx: [486, 580], fy: [355, 461], xm: [492, 0, 571, 1], ym: [408.7, 0, 370.7, 0.2], marks: (xd, yd) => [
  ...yAx(xd, [0.2, 0.1, 0, -0.1, -0.2], [0.2, 0, -0.2], -0.27, 0.25),
  ...xAx(yd, [0, 0.25, 0.5, 0.75, 1], [0, 0.5, 1], -0.03, 1.05, {size: 4, pad: 1}),
  Plot.ruleY([0], {x1: -0.04, x2: 1.05, stroke: "#555", strokeWidth: 0.9}),
  L(negContrast, gOff, K, 1), ...EB(negContrast, gOff, gOffE, K, 0.015), D(negContrast, gOff, K, 3.3),
  L(negContrast, gOn, C, 1), ...EB(negContrast, gOn, gOnE, C, 0.015), D(negContrast, gOn, C, 3.3)
]});
letter("G", 442, 329);
T("r<sub>b</sub>", 532, 343, {size: 12});
T("nA", 451, 407, {rot: true});
T("negative contrast", 531, 485);

// ================= Panel H =================
const xmH = [60, 0, 232.5, 2];
chart({fx: [55, 295], fy: [533, 575], xm: xmH, ym: [539, 1, 570, -1], marks: (xd) => [
  ...yAx(xd, [1, 0, -1], [1, 0, -1], -1, 1),
  L(hcT, hContrast, "#555", 1, {curve: "step-after"})
]});
chart({fx: [55, 295], fy: [580, 636], xm: xmH, ym: [592, 3, 622, 2], marks: (xd) => [
  ...yAx(xd, [3, 2.5, 2], [3, 2], 1.57, 3.3),
  L(tH, hCtlData, K, 1.1), L(tH, hCtlModel, C, 1.1)
]});
chart({fx: [55, 295], fy: [640, 684], xm: xmH, ym: [646, 2.5, 675, 1.5], marks: (xd, yd) => [
  ...yAx(xd, [2.5, 2, 1.5], [2.5, 1.5], 1.3, 2.62),
  ...xAx(yd, [0, 0.5, 1, 1.5, 2, 2.5], [0, 1, 2], 0, 2.7, {size: 5, pad: 4}),
  L(tH, hDnqData, R, 1.6), L(tH, hDnqModel, C, 1)
]});
letter("H", 8, 543);
T("contrast", 26, 556, {rot: true});
T("mean, 300 R*/rod/sec", 66, 535, {a: "s"});
T("OFF cell, I<sub>inh</sub>, control", 62, 585, {a: "s"});
T("nA", 28, 606, {rot: true});
T("nA", 28, 658, {rot: true});
T("+DNQX", 120, 652, {a: "s", color: R});
T("LN models", 240, 650, {a: "s", color: C});
T("time (s)", 186, 706);

// ================= Panel I =================
chart({fx: [337, 440], fy: [570, 678], xm: [340, 0, 433, 400], ym: [577, 1, 633, 0], marks: (xd, yd) => [
  ...yAx(xd, [1, 0.5, 0, -0.5], [1, 0], -0.66, 1),
  ...xAx(yd, [0, 100, 200, 300, 400], [0, 200, 400], 0, 400, {size: 4, pad: 4}),
  L(iT, iControl, K, 1), L(iT, iDnqx, R, 1)
]});
chart({fx: [393, 446], fy: [552, 600], xm: [398, -20, 436, 20], ym: [557, 2.6, 592, 1.6], fs: 8.5, marks: (xd, yd) => [
  ...yAx(xd, [2.6, 2.1, 1.6], [2.6, 1.6], 1.38, 2.74, {size: 3}),
  ...xAx(yd, [-20, -10, 0, 10, 20], [-20, 0, 20], -25, 28, {size: 2, pad: 1}),
  D(insIdnqX, insIdnqY, R, 1.1), D(insIctlX, insIctlY, K, 1.1),
  L(insIctlFitX, insIctlFitY, C, 1.2, {curve: "natural"}), L(insIdnqFitX, insIdnqFitY, C, 1.2, {curve: "natural"})
]});
letter("I", 312, 536);
T("filter units", 318, 600, {rot: true});
T("time (ms)", 390, 706);
T("nA", 384, 572, {rot: true, size: 9});
T("linear prediction", 419, 619, {size: 9});

// ================= Panel J =================
chart({fx: [509, 605], fy: [565, 677], xm: [517, 1, 570, 10], xlog: true, ym: [573, 100, 667, 1], ylog: true, marks: (xd, yd) => [
  ...yAx(xd, [1, 10, 100], [1, 10, 100], 1, 100, {size: 5}),
  Plot.ruleY([yd[0]], {x1: 0.9, x2: 32, stroke: AX}),
  Plot.axisX({ticks: [1, 3, 10, 30], tickSize: 5, tickPadding: 3, tickFormat: d => String(d), stroke: AX, fill: "#333", label: null, anchor: "bottom"}),
  Plot.axisX({ticks: [2, 4, 5, 6, 7, 8, 9, 20], tickSize: 3, tickFormat: () => "", stroke: AX, label: null, anchor: "bottom"}),
  ...EB(jF, jCtl, jCtlE, K), L(jF, jCtl, K, 1),
  ...EB(jF, jDnq, jDnqE, R), L(jF, jDnq, R, 1)
]});
letter("J", 471, 536);
T("Fourier amp. (filter units)", 476, 624, {rot: true});
T("temporal frequency (Hz)", 555, 706);
T("control", 520, 633, {a: "s", size: 11.5});
T("+DNQX", 520, 646, {a: "s", color: R, size: 11.5});
T("(n = 5)", 520, 659, {a: "s", size: 11.5});
</script></body></html>
